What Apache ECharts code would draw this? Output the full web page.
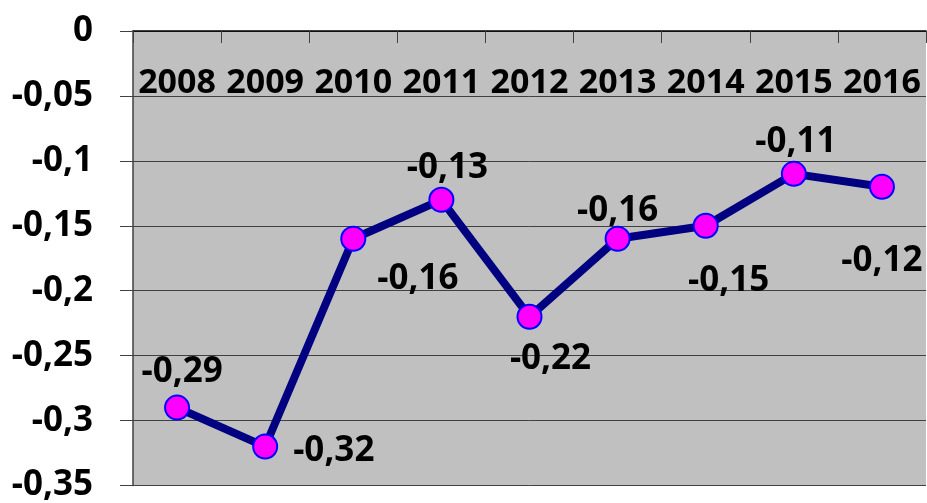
<!DOCTYPE html>
<html>
<head>
<meta charset="utf-8">
<script src="https://cdn.jsdelivr.net/npm/echarts@6/dist/echarts.min.js"></script>
<style>
  html, body { margin: 0; padding: 0; background: #fff; }
  #chart { width: 927px; height: 503px; }
</style>
</head>
<body>
<div id="chart"></div>
<script>
// years along the top axis
const years = ["2008", "2009", "2010", "2011", "2012", "2013", "2014", "2015", "2016"];
// values per year
const values = [-0.29, -0.32, -0.16, -0.13, -0.22, -0.16, -0.15, -0.11, -0.12];
// where each data label sits relative to its point
const labelPos = ["top", "right", "right", "top", "bottom", "top", "bottom", "top", "bottom"];
const labelOffset = [[5, 0], [10, 4], [6, 40], [6, 4], [21, 7], [0, 8], [23, 20], [2, 4], [0, 39]];

const fmt = (v) => String(v).replace(".", ",");

const chart = echarts.init(document.getElementById("chart"));

const seriesData = values.map((v, i) => ({
  value: v,
  label: {
    position: labelPos[i],
    offset: labelOffset[i],
  },
}));

chart.setOption({
  animation: false,
  textStyle: { fontFamily: "Noto Sans" },
  grid: {
    left: 133,
    right: 1,
    top: 31,
    bottom: 14,
    show: true,
    backgroundColor: "#C0C0C0",
    borderWidth: 0,
  },
  xAxis: {
    type: "category",
    position: "top",
    data: years,
    axisLine: { show: true, lineStyle: { color: "#000", width: 1.5 } },
    axisTick: { show: true, inside: true, length: 12, lineStyle: { color: "#404040" } },
    axisLabel: {
      inside: true,
      interval: 0,
      hideOverlap: false,
      margin: 35,
      color: "#000",
      fontSize: 34,
      fontWeight: "bold",
      fontFamily: "Noto Sans",
    },
    splitLine: { show: false },
  },
  yAxis: {
    type: "value",
    min: -0.35,
    max: 0,
    interval: 0.05,
    axisLine: { show: true, lineStyle: { color: "#404040", width: 1.5 } },
    axisTick: { show: true, length: 13, lineStyle: { color: "#404040" } },
    axisLabel: {
      margin: 40,
      color: "#000",
      fontSize: 35,
      fontWeight: "bold",
      fontFamily: "Noto Sans",
      formatter: (v) => fmt(Math.round(v * 100) / 100),
    },
    splitLine: { show: true, lineStyle: { color: "#404040", width: 1 } },
  },
  series: [{
    type: "line",
    data: seriesData,
    symbol: "circle",
    symbolSize: 24,
    lineStyle: { color: "#000080", width: 8 },
    itemStyle: { color: "#FF00FF", borderColor: "#0000FF", borderWidth: 2 },
    label: {
      show: true,
      color: "#000",
      fontSize: 35,
      fontWeight: "bold",
      fontFamily: "Noto Sans",
      formatter: (p) => fmt(p.value),
    },
  }],
});
</script>
</body>
</html>
